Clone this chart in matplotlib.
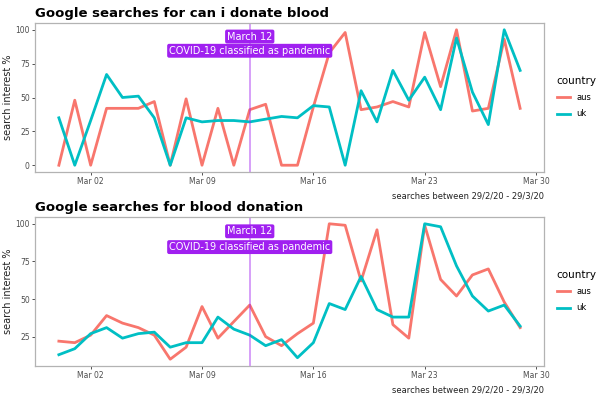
import numpy as np
import pandas as pd
import matplotlib
matplotlib.use('Agg')
import matplotlib.pyplot as plt
import matplotlib.dates as mdates

dates = pd.date_range('2020-02-29', '2020-03-29', freq='D')

# "can i donate blood"
can_aus = [0, 48, 0, 42, 42, 42, 47, 0, 49, 0, 42, 0, 41, 45, 0,
           0, 43, 83, 98, 41, 43, 47, 43, 98, 58, 100, 40, 42, 93, 42]
can_uk = [35, 0, 33, 67, 50, 51, 35, 0, 35, 32, 33, 33, 32, 34, 36,
          35, 44, 43, 0, 55, 32, 70, 48, 65, 41, 94, 54, 30, 100, 70]

# "blood donation"
don_aus = [22, 21, 26, 39, 34, 31, 26, 10, 18, 45, 24, 35, 46, 25, 19,
           27, 34, 100, 99, 62, 96, 33, 24, 99, 63, 52, 66, 70, 48, 31]
don_uk = [13, 17, 27, 31, 24, 27, 28, 18, 21, 21, 38, 30, 26, 19, 23,
          11, 21, 47, 43, 65, 43, 38, 38, 100, 98, 72, 52, 42, 46, 32]

titles = ['Google searches for can i donate blood', 'Google searches for blood donation']
caption = 'searches between 29/2/20 - 29/3/20'
event_date = pd.Timestamp('2020-03-12')

red = '#F8766D'
teal = '#00BFC4'
purple = '#A020F0'
grey_txt = '#4d4d4d'

fig = plt.figure(figsize=(6.01, 3.97), dpi=100)
panels = [(can_aus, can_uk), (don_aus, don_uk)]
boxes = [[35/601, 1-172/397, 509/601, 149/397],
         [35/601, 1-366/397, 509/601, 149/397]]

for i, (aus, uk) in enumerate(panels):
    ax = fig.add_axes(boxes[i])
    la, = ax.plot(dates, aus, color=red, lw=2, label='aus')
    lu, = ax.plot(dates, uk, color=teal, lw=2, label='uk')
    ax.axvline(event_date, color=purple, alpha=0.5, lw=1.2)
    lo = min(min(aus), min(uk))
    hi = max(max(aus), max(uk))
    pad = (hi - lo) * 0.05
    ax.set_ylim(lo - pad, hi + pad)
    ax.set_xlim(pd.Timestamp('2020-02-27 12:00'), pd.Timestamp('2020-03-30 12:00'))
    ax.set_yticks([0, 25, 50, 75, 100] if lo < 5 else [25, 50, 75, 100])
    ax.xaxis.set_major_locator(mdates.DayLocator(bymonthday=[2, 9, 16, 23, 30]))
    ax.xaxis.set_major_formatter(mdates.DateFormatter('%b %d'))
    ax.tick_params(labelsize=5.5, colors='#333333', labelcolor=grey_txt, length=2.2,
                   width=0.6, pad=1.5)
    for s in ax.spines.values():
        s.set_color('#b3b3b3')
        s.set_linewidth(0.9)
    ax.set_ylabel('search interest %', fontsize=7, color='#222222', labelpad=3)
    ax.yaxis.set_label_coords(-0.043, 0.5)
    ax.set_title(titles[i], loc='left', fontsize=9.5, fontweight='bold', pad=4)
    ax.text(1.0, -0.13, caption, transform=ax.transAxes, ha='right', va='top',
            fontsize=6, color='#222222')
    ax.text(event_date, 95, 'March 12', ha='center', va='center', fontsize=7, color='white',
            bbox=dict(boxstyle='round,pad=0.2,rounding_size=0.2', fc=purple, ec='none'))
    ax.text(event_date, 84.5, 'COVID-19 classified as pandemic', ha='center', va='center',
            fontsize=7, color='white',
            bbox=dict(boxstyle='round,pad=0.2,rounding_size=0.2', fc=purple, ec='none'))
    fig.legend(handles=[la, lu], title='country', loc='center left',
               bbox_to_anchor=(549/601, 1 - (97 + i*194)/397), frameon=False,
               fontsize=6, title_fontsize=7.5, handlelength=1.6, labelspacing=0.9,
               alignment='left')

fig.savefig('out.png', dpi=100)
